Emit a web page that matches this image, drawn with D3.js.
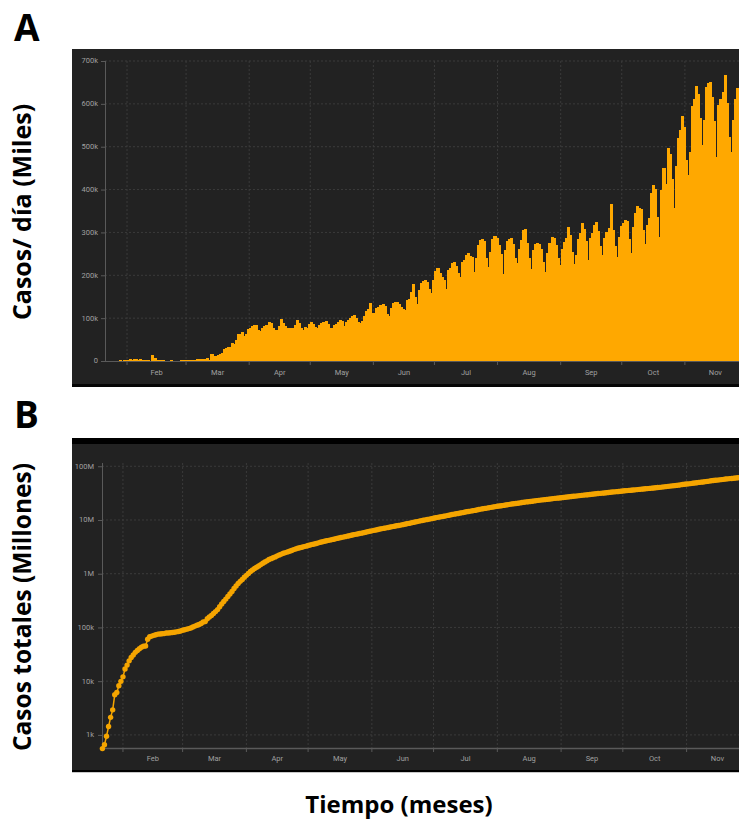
<!DOCTYPE html>
<html><head><meta charset="utf-8">
<script src="https://cdn.jsdelivr.net/npm/d3@7/dist/d3.min.js"></script>
<style>
html,body{margin:0;padding:0;background:#fff;}
svg{display:block;}
</style></head>
<body>
<svg id="chart" width="739" height="821"></svg>
<script>
// ---------------- DATA ----------------
const startDate = "2020-01-22";
const monthTicks = ["2020-02-01","2020-03-01","2020-04-01","2020-05-01","2020-06-01","2020-07-01","2020-08-01","2020-09-01","2020-10-01","2020-11-01"];
const monthLabels = ["Feb","Mar","Apr","May","Jun","Jul","Aug","Sep","Oct","Nov"];
const dailyTicksK = [0,100,200,300,400,500,600,700];
const dailyTickLabels = ["0","100k","200k","300k","400k","500k","600k","700k"];
const totalTicksK = [1,10,100,1000,10000,100000];
const totalTickLabels = ["1k","10k","100k","1M","10M","100M"];

// A: new cases per day (thousands), one value per day from 22 Jan
const dailyCasesK = [
 0.55,0.1,0.29,0.49,0.68,0.81,2.65,0.59,2.07,1.69,
 2.11,4.75,3.1,4.01,3.75,3.16,3.59,2.73,3.03,2.61,2.04,0.42,15.15,6.53,2.14,2.18,2.04,1.88,0.5,0.56,0.63,1.76,0.38,0.56,0.85,0.98,1.36,1.39,1.89,
 2.36,1.94,2.54,2.28,2.76,3.91,4.04,4.0,3.75,4.6,7.3,2.5,16.85,10.9,11.35,14.1,15.6,17.75,27.8,29.45,32.36,32.43,41.28,39.81,49.61,61.94,63.7,67.42,59.41,62.25,75.12,
 77,81,85,83,72,71,76,82,85,91,88,76,72,73,81,97,89,82,78,76,77,76,84,96,88,77,73,79,77,86,
 92,86,80,77,83,88,92,94,87,78,76,84,86,92,96,93,81,90,95,100,106,107,100,92,88,94,104,117,122,135,112,
 112,124,127,131,133,128,110,106,124,136,137,138,134,125,121,120,142,145,160,180,150,132,165,182,186,190,184,168,158,190,
 210,216,205,196,188,167,212,218,228,232,222,205,197,230,236,248,253,245,243,208,240,270,282,285,280,240,220,255,285,291,288,
 270,250,204,258,280,284,286,274,240,228,262,282,305,307,275,240,214,258,272,275,274,262,232,208,252,276,289,287,270,240,223,
 262,278,288,312,295,255,226,248,284,298,321,308,280,235,288,298,318,324,304,268,247,288,300,310,366,305,268,242,290,314,
 322,329,326,285,251,312,345,361,358,355,305,273,318,333,392,410,402,335,289,398,450,412,497,482,425,357,455,520,538,571,545,
 470,434,487,596,612,641,622,566,503,562,640,648,652,615,560,475,597,612,627,667,602,522,487,562,612,636,600
];

// B: total cases (thousands), one value per day from 22 Jan
const totalCasesK = [
 0.555,0.654,0.941,1.434,2.118,2.927,5.578,6.166,8.234,9.927,
 12.04,16.79,19.89,23.9,27.64,30.8,34.4,37.13,40.16,42.77,44.81,45.23,60.38,66.91,69.05,71.24,73.27,75.15,75.65,76.21,76.84,78.6,78.98,79.55,80.4,81.38,82.74,84.12,86.01,
 88.37,90.31,92.84,95.12,97.89,101.8,105.8,109.8,113.6,118.6,125.9,128.3,145.2,156.1,167.4,181.5,197.2,214.9,242.7,272.2,304.5,337.0,378.2,418.0,467.7,529.6,593.3,660.7,720.1,782.4,857.5,
 932.6,1013,1096,1176,1250,1321,1396,1479,1565,1657,1735,1835,1907,1977,2056,2152,2240,2317,2401,2472,2549,2624,2708,2811,2896,2971,3041,3116,3193,3256,
 3340,3430,3510,3580,3660,3750,3840,3940,4020,4100,4180,4260,4350,4440,4540,4630,4710,4800,4900,5000,5100,5210,5310,5400,5490,5590,5690,5810,5930,6060,6170,
 6280,6410,6530,6660,6800,6920,7030,7140,7260,7400,7530,7670,7800,7920,8040,8180,8330,8510,8640,8820,9010,9160,9340,9530,9710,9890,10050,10210,10390,10590,
 10800,11000,11200,11390,11560,11730,11940,12160,12390,12620,12840,13030,13230,13450,13680,13930,14190,14430,14640,14850,15080,15360,15650,15930,16190,16420,16640,16890,17180,17470,17760,
 18020,18240,18440,18700,18980,19270,19550,19820,20050,20280,20540,20820,21130,21420,21690,21910,22120,22380,22660,22930,23200,23460,23680,23890,24140,24410,24700,24990,25260,25490,25710,
 25970,26250,26540,26850,27140,27390,27610,27850,28140,28430,28750,29060,29330,29570,29850,30150,30470,30790,31090,31350,31600,31880,32180,32490,32850,33150,33410,33650,33940,34250,
 34570,34900,35230,35500,35750,36060,36410,36770,37130,37480,37780,38060,38370,38710,39100,39510,39910,40240,40530,40930,41380,41790,42290,42770,43190,43540,43990,44510,45050,45620,46170,
 46640,47070,47560,48160,48770,49410,50030,50600,51100,51660,52300,52950,53600,54210,54770,55250,55840,56450,57080,57750,58350,58870,59360,59920,60530,61170,61770
];

// ---------------- CHART ----------------
const svg = d3.select("#chart");
const parse = d3.utcParse("%Y-%m-%d");
const day0 = parse(startDate);
const dayOf = i => d3.utcDay.offset(day0, i);
const dailyData = dailyCasesK.map((v, i) => ({date: dayOf(i), v}));
const totalData = totalCasesK.map((v, i) => ({date: dayOf(i), v}));
const ticksDates = monthTicks.map(parse);

const ORANGE = "#ffa800";
const DOT = "#f5a500";
const BG = "#222222";
const GRID = "#3b3b3b";
const AXIS = "#5a5a5a";
const TICKTXT = "#a0a0a0";
const font = "Roboto, 'DejaVu Sans', sans-serif";

const defs = svg.append("defs");

// ======== PANEL A ========
const A = {left: 72, right: 739, top: 49, bottom: 385, axisX: 105, y0: 361, y1: 61};
svg.append("rect").attr("x", A.left).attr("y", A.top).attr("width", A.right - A.left).attr("height", A.bottom - A.top).attr("fill", BG);
svg.append("rect").attr("x", A.left).attr("y", A.bottom - 1).attr("width", A.right - A.left).attr("height", 3).attr("fill", "#050505");

const xA = d3.scaleUtc().domain([parse("2020-01-01"), parse("2020-12-01")]).range([63.9, 63.9 + 335 * 2.036]);
const yA = d3.scaleLinear().domain([0, 700]).range([A.y0, A.y1]);

defs.append("clipPath").attr("id", "clipA").append("rect")
  .attr("x", A.axisX).attr("y", A.top).attr("width", A.right - A.axisX).attr("height", A.bottom - A.top);

const gA = svg.append("g");
// grid
gA.append("g").selectAll("line").data(dailyTicksK.slice(1)).join("line")
  .attr("x1", A.axisX).attr("x2", A.right).attr("y1", d => yA(d)).attr("y2", d => yA(d))
  .attr("stroke", GRID).attr("stroke-width", 1).attr("stroke-dasharray", "2,2");
gA.append("g").selectAll("line").data(ticksDates).join("line")
  .attr("x1", d => xA(d)).attr("x2", d => xA(d)).attr("y1", A.y1).attr("y2", A.y0)
  .attr("stroke", GRID).attr("stroke-width", 1).attr("stroke-dasharray", "2,2");
// x axis baseline
gA.append("line").attr("x1", A.axisX).attr("x2", A.right).attr("y1", A.y0 + 0.5).attr("y2", A.y0 + 0.5).attr("stroke", AXIS);
// bars
gA.append("g").attr("clip-path", "url(#clipA)").attr("shape-rendering", "crispEdges")
  .selectAll("rect").data(dailyData).join("rect")
  .attr("x", d => xA(d.date))
  .attr("width", d => xA(d3.utcDay.offset(d.date, 1)) - xA(d.date) + 1)
  .attr("y", d => yA(d.v))
  .attr("height", d => yA(0) - yA(d.v))
  .attr("fill", ORANGE);
// y axis
gA.append("line").attr("x1", A.axisX + 0.5).attr("x2", A.axisX + 0.5).attr("y1", A.y1).attr("y2", A.y0).attr("stroke", AXIS);
gA.append("g").selectAll("line").data(dailyTicksK).join("line")
  .attr("x1", A.axisX - 4).attr("x2", A.axisX).attr("y1", d => yA(d) + 0.5).attr("y2", d => yA(d) + 0.5).attr("stroke", AXIS);
gA.append("g").selectAll("text").data(dailyTicksK).join("text")
  .attr("x", A.axisX - 7).attr("y", d => yA(d)).attr("dy", "0.33em")
  .attr("text-anchor", "end").attr("font-family", font).attr("font-size", 7.5).attr("fill", TICKTXT)
  .text((d, i) => dailyTickLabels[i]);
// x ticks + month labels
gA.append("g").selectAll("line").data(ticksDates).join("line")
  .attr("x1", d => xA(d)).attr("x2", d => xA(d)).attr("y1", A.y0).attr("y2", A.y0 + 4).attr("stroke", AXIS);
gA.append("g").selectAll("text").data(ticksDates).join("text")
  .attr("x", d => (xA(d) + xA(d3.utcMonth.offset(d, 1))) / 2).attr("y", A.y0 + 14)
  .attr("text-anchor", "middle").attr("font-family", font).attr("font-size", 7.5).attr("fill", TICKTXT)
  .text((d, i) => monthLabels[i]);

// ======== PANEL B ========
const B = {left: 72, right: 739, top: 444, bottom: 770, axisX: 102, y0: 748, y1: 463};
svg.append("rect").attr("x", B.left).attr("y", B.top - 6).attr("width", B.right - B.left).attr("height", 6).attr("fill", "#000");
svg.append("rect").attr("x", B.left).attr("y", B.top).attr("width", B.right - B.left).attr("height", B.bottom - B.top).attr("fill", BG);
svg.append("rect").attr("x", B.left).attr("y", B.bottom).attr("width", B.right - B.left).attr("height", 2).attr("fill", "#000");
svg.append("rect").attr("x", B.left).attr("y", B.bottom + 2).attr("width", B.right - B.left).attr("height", 1).attr("fill", "#c8c8c8");

const xB = d3.scaleUtc().domain([parse("2020-01-01"), parse("2020-12-01")]).range([59.2, 59.2 + 335 * 2.057]);
const yB = d3.scaleLog().domain([0.57, 115000]).range([B.y0, B.y1]);

defs.append("clipPath").attr("id", "clipB").append("rect")
  .attr("x", B.left).attr("y", B.top).attr("width", B.right - B.left).attr("height", B.bottom - B.top);

const gB = svg.append("g");
gB.append("g").selectAll("line").data(totalTicksK).join("line")
  .attr("x1", B.axisX).attr("x2", B.right).attr("y1", d => yB(d)).attr("y2", d => yB(d))
  .attr("stroke", GRID).attr("stroke-dasharray", "2,2");
gB.append("g").selectAll("line").data(ticksDates).join("line")
  .attr("x1", d => xB(d)).attr("x2", d => xB(d)).attr("y1", B.y1).attr("y2", B.y0)
  .attr("stroke", GRID).attr("stroke-dasharray", "2,2");
// axes
gB.append("line").attr("x1", B.axisX + 0.5).attr("x2", B.axisX + 0.5).attr("y1", B.y1).attr("y2", B.y0).attr("stroke", AXIS);
gB.append("line").attr("x1", B.axisX).attr("x2", B.right).attr("y1", B.y0 + 0.5).attr("y2", B.y0 + 0.5).attr("stroke", AXIS).attr("stroke-width", 1.5);
gB.append("g").selectAll("line").data(totalTicksK).join("line")
  .attr("x1", B.axisX - 4).attr("x2", B.axisX).attr("y1", d => yB(d) + 0.5).attr("y2", d => yB(d) + 0.5).attr("stroke", AXIS);
gB.append("g").selectAll("text").data(totalTicksK).join("text")
  .attr("x", B.axisX - 8).attr("y", d => yB(d)).attr("dy", "0.33em")
  .attr("text-anchor", "end").attr("font-family", font).attr("font-size", 7.5).attr("fill", TICKTXT)
  .text((d, i) => totalTickLabels[i]);
gB.append("g").selectAll("line").data(ticksDates).join("line")
  .attr("x1", d => xB(d)).attr("x2", d => xB(d)).attr("y1", B.y0).attr("y2", B.y0 + 4).attr("stroke", AXIS);
gB.append("g").selectAll("text").data(ticksDates).join("text")
  .attr("x", d => (xB(d) + xB(d3.utcMonth.offset(d, 1))) / 2).attr("y", B.y0 + 13)
  .attr("text-anchor", "middle").attr("font-family", font).attr("font-size", 7.5).attr("fill", TICKTXT)
  .text((d, i) => monthLabels[i]);
// line + dots
const gBc = gB.append("g").attr("clip-path", "url(#clipB)");
gBc.append("path").datum(totalData)
  .attr("d", d3.line().x(d => xB(d.date)).y(d => yB(d.v)))
  .attr("fill", "none").attr("stroke", DOT).attr("stroke-width", 1.5);
gBc.append("g").selectAll("circle").data(totalData).join("circle")
  .attr("cx", d => xB(d.date)).attr("cy", d => yB(d.v)).attr("r", 2.7).attr("fill", DOT);

// ======== LABELS ========
const lab = "'Open Sans', Lato, sans-serif";
svg.append("text").attr("x", 14).attr("y", 41).attr("font-family", lab).attr("font-weight", 700).attr("font-size", 37).attr("fill", "#000").text("A");
svg.append("text").attr("x", 14).attr("y", 428).attr("font-family", lab).attr("font-weight", 700).attr("font-size", 37).attr("fill", "#000").text("B");
svg.append("text").attr("transform", "translate(31,212) rotate(-90)").attr("text-anchor", "middle")
  .attr("font-family", lab).attr("font-weight", 700).attr("font-size", 25).attr("fill", "#000").text("Casos/ día (Miles)");
svg.append("text").attr("transform", "translate(31,607) rotate(-90)").attr("text-anchor", "middle")
  .attr("font-family", lab).attr("font-weight", 700).attr("font-size", 24.5).attr("fill", "#000").text("Casos totales (Millones)");
svg.append("text").attr("x", 399).attr("y", 813).attr("text-anchor", "middle")
  .attr("font-family", lab).attr("font-weight", 700).attr("font-size", 24).attr("fill", "#000").text("Tiempo (meses)");
</script>
</body></html>
